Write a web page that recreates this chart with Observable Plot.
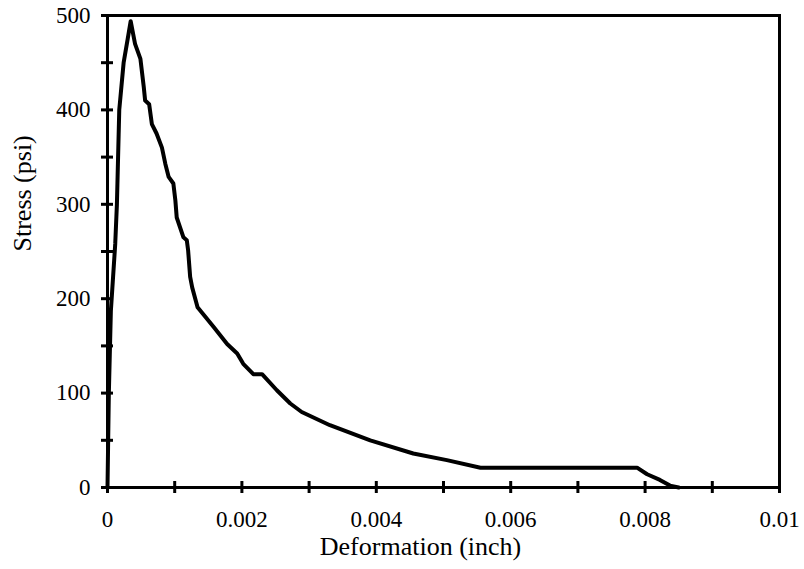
<!DOCTYPE html>
<html>
<head>
<meta charset="utf-8">
<script src="https://cdn.jsdelivr.net/npm/d3@7"></script>
<script src="https://cdn.jsdelivr.net/npm/@observablehq/plot@0.6"></script>
<style>
  html, body { margin: 0; padding: 0; background: #fff; }
  #chart svg { display: block; }
</style>
</head>
<body>
<div id="chart"></div>
<script>
// Deformation (inch)
const deformation = [
  0, 0.00002, 0.00005, 0.000115, 0.00014, 0.000175, 0.00024, 0.0003, 0.000345,
  0.00041, 0.00049, 0.00054, 0.00056, 0.00062, 0.00066, 0.00073, 0.00081, 0.00086,
  0.00091, 0.00098, 0.00101, 0.00103, 0.00113, 0.00118, 0.0012, 0.00123, 0.00126,
  0.00134, 0.00158, 0.00178, 0.00193, 0.00202, 0.00217, 0.0023, 0.00252, 0.00272,
  0.00289, 0.00331, 0.00391, 0.00455, 0.00505, 0.00555, 0.00788, 0.00803, 0.00822,
  0.00837, 0.0085
];
// Stress (psi)
const stress = [
  0, 100, 187, 258, 300, 400, 450, 475, 494,
  470, 454, 424, 410, 406, 385, 375, 360, 343,
  329, 322, 304, 286, 265, 262, 251, 223, 212,
  191, 170, 152, 142, 131, 120, 120, 103, 89,
  80, 66, 50, 36, 29, 21, 21, 14, 8,
  2, 0
];
const xTicks = [0, 0.001, 0.002, 0.003, 0.004, 0.005, 0.006, 0.007, 0.008, 0.009, 0.01];
const xLabels = [0, 0.002, 0.004, 0.006, 0.008, 0.01];
const yTicks = [0, 50, 100, 150, 200, 250, 300, 350, 400, 450, 500];
const yLabels = [0, 100, 200, 300, 400, 500];
const xTitle = "Deformation (inch)";
const yTitle = "Stress (psi)";

const data = deformation.map((d, i) => ({x: d, y: stress[i]}));
const fmt = d => String(+d.toFixed(4));

const W = 804, H = 569, ML = 107, MR = 25, MT = 15, MB = 82;
const fw = W - ML - MR, fh = H - MT - MB;

const chart = Plot.plot({
  width: W,
  height: H,
  marginLeft: ML,
  marginRight: MR,
  marginTop: MT,
  marginBottom: MB,
  style: {fontFamily: "'Liberation Serif', 'Times New Roman', serif", fontSize: "23px", color: "#000", background: "#fff"},
  x: {domain: [0, 0.01]},
  y: {domain: [0, 500]},
  marks: [
    Plot.ruleX(xTicks, {x: d => d, stroke: "#000", strokeWidth: 3, insetTop: fh - 6, insetBottom: -6}),
    Plot.ruleY(yTicks, {y: d => d, stroke: "#000", strokeWidth: 3, insetLeft: -6, insetRight: fw - 6}),
    Plot.axisX({ticks: xLabels, tickSize: 0, tickPadding: 23, tickFormat: fmt, label: null, fontSize: 23}),
    Plot.axisY({ticks: yLabels, tickSize: 0, tickPadding: 17, tickFormat: fmt, label: null, fontSize: 23}),
    Plot.frame({stroke: "#000", strokeWidth: 3}),
    Plot.line(data, {x: "x", y: "y", stroke: "#000", strokeWidth: 4, strokeLinejoin: "round", strokeLinecap: "round"}),
    Plot.text([xTitle], {frameAnchor: "bottom", dy: 67, dx: -23, fontSize: 26, fill: "#000"}),
    Plot.text([yTitle], {frameAnchor: "left", dx: -85, rotate: -90, fontSize: 26, fill: "#000"})
  ]
});
document.getElementById("chart").appendChild(chart);
</script>
</body>
</html>
